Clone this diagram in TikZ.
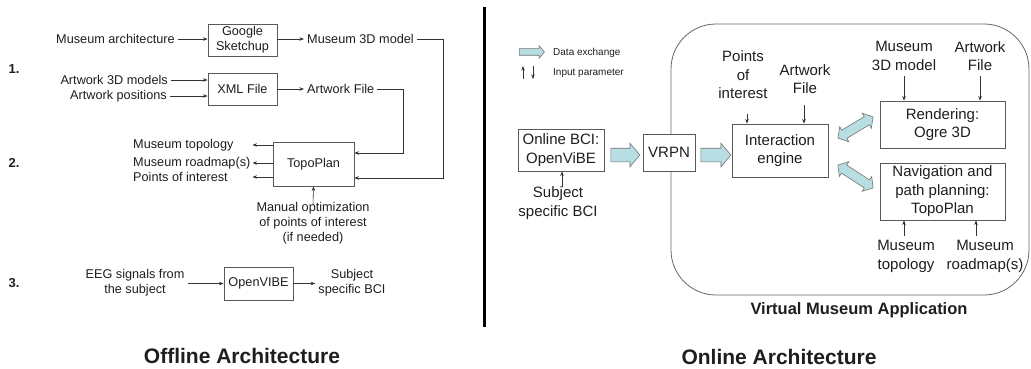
\documentclass[tikz,border=0pt]{standalone}
\usepackage{fontspec}
\setmainfont{Liberation Sans}
\usetikzlibrary{arrows.meta,shapes.arrows,calc}
\newcommand\fL{\fontsize{12.7}{15}\selectfont}
\newcommand\fR{\fontsize{15}{18.5}\selectfont}
\newcommand\fS{\fontsize{10}{12}\selectfont}
\definecolor{blu}{RGB}{183,222,226}
\definecolor{txt}{RGB}{30,30,30}
\begin{document}
\begin{tikzpicture}[x=1pt,y=-1pt,
  box/.style={draw=black!65, line width=0.9pt, fill=white, align=center, inner sep=1pt, text=txt},
  lbl/.style={align=center, inner sep=3pt, text=txt},
  arr/.style={-{Stealth[length=4.5pt,width=3.5pt]}, line width=0.6pt, draw=black!80},
  ln/.style={line width=0.6pt, draw=black!80},
  barrow/.style={single arrow, draw=black!55, fill=blu, line width=0.6pt, inner xsep=0pt, inner ysep=6.5pt, single arrow head extend=5pt, single arrow tip angle=100},
  dbarrow/.style={double arrow, draw=black!55, fill=blu, line width=0.6pt, inner xsep=0pt, inner ysep=4.5pt, double arrow head extend=4pt, double arrow tip angle=100},
  num/.style={font=\bfseries\fontsize{13}{15}\selectfont, text=txt, inner sep=0pt}
]
\useasboundingbox (0,0) rectangle (1031,369);

% ---------------- Offline ----------------
\node[num] (n1) at (14,69) {1.};
\node[num] (n2) at (14,163) {2.};
\node[num] (n3) at (14,283) {3.};

\node[box, font=\fL, minimum width=69, minimum height=32] (gs) at (242.5,40) {Google\\Sketchup};
\node[lbl, font=\fL, anchor=east] (ma) at (178,39) {Museum architecture};
\node[lbl, font=\fL, anchor=west] (m3d) at (304,39) {Museum 3D model};
\draw[arr] (ma.east) -- (gs.west |- ma.east);
\draw[arr] (gs.east |- m3d.west) -- (m3d.west);

\node[box, font=\fL, minimum width=69, minimum height=32] (xml) at (242.5,89) {XML File};
\node[lbl, font=\fL, anchor=east] (a3d) at (171,80) {Artwork 3D models};
\node[lbl, font=\fL, anchor=east] (apos) at (170,96) {Artwork positions};
\node[lbl, font=\fL, anchor=west] (af) at (304,89) {Artwork File};
\draw[arr] (a3d.east) -- (xml.west |- a3d.east);
\draw[arr] (apos.east) -- (xml.west |- apos.east);
\draw[arr] (xml.east |- af.west) -- (af.west);

\node[box, font=\fL, minimum width=81, minimum height=44] (tp) at (313.5,164) {TopoPlan};
\node[lbl, font=\fL, anchor=west, inner sep=0pt] (mt) at (133,145) {Museum topology};
\node[lbl, font=\fL, anchor=west, inner sep=0pt] (mr) at (133,163) {Museum roadmap(s)};
\node[lbl, font=\fL, anchor=west, inner sep=0pt] (poi) at (133,177) {Points of interest};
\draw[arr] (tp.west |- mt.west) -- ++(-20,0);
\draw[arr] (tp.west |- mr.west) -- ++(-20,0);
\draw[arr] (tp.west |- poi.west) -- ++(-20,0);
\coordinate (k1) at (443,178);
\coordinate (k2) at (403,153);
\draw[arr] (m3d.east) -| (k1) -- (tp.east |- k1);
\draw[arr] (af.east) -| (k2) -- (tp.east |- k2);
\node[lbl, font=\fL, anchor=north, inner sep=0pt] (man) at (313,202) {Manual optimization\\of points of interest\\(if needed)};
\draw[arr] ([yshift=-3pt]man.north) -- (tp.south);

\node[box, font=\fL, minimum width=69, minimum height=33] (ov) at (258.5,283.5) {OpenVIBE};
\node[lbl, font=\fL] (eeg) at (135,283) {EEG signals from\\the subject};
\node[lbl, font=\fL] (sbci) at (352,283) {Subject\\specific BCI};
\draw[arr] (eeg.east |- ov.west) -- (ov.west);
\draw[arr] (ov.east) -- (sbci.west |- ov.east);

\node[font=\bfseries\fontsize{21}{24}\selectfont, text=txt] (off) at (242,356) {Offline Architecture};

% divider
\draw[line width=3pt] (484,7) -- (484,327);

% ---------------- Online ----------------
\draw[draw=black!60, line width=0.8pt, rounded corners=45pt] (671,24) rectangle (1029,295);

\node[barrow, minimum height=25, inner ysep=3pt, single arrow head extend=3pt] (lgarr) at (530.5,52) {};
\node[lbl, font=\fS, anchor=west, inner sep=0pt] (lgd) at (553,53) {Data exchange};
\coordinate (u1) at (523,79);
\coordinate (u2) at (533,66);
\draw[arr] (u1) -- ++(0,-13);
\draw[arr] (u2) -- ++(0,13);
\node[lbl, font=\fS, anchor=west, inner sep=0pt] (lgi) at (553,73) {Input parameter};

\node[box, font=\fR, minimum width=86, minimum height=42] (bci) at (561,150) {Online BCI:\\OpenViBE};
\node[box, font=\fR, minimum width=52, minimum height=37] (vrpn) at (669,152.5) {VRPN};
\node[box, font=\fR, minimum width=96, minimum height=53] (ie) at (780,150.5) {Interaction\\engine};
\node[barrow, minimum height=29] (b1) at (622.5,155) {};
\node[barrow, minimum height=30] (b2) at (713,155) {};

\node[lbl, font=\fR, inner sep=0pt] (subj) at (558,203) {Subject\\specific BCI};
\draw[arr] ([xshift=4pt]subj.north) -- ([xshift=1pt]bci.south);

\node[lbl, font=\fR, inner sep=0pt] (poi2) at (743,75) {Points\\of\\interest};
\node[lbl, font=\fR, inner sep=0pt] (af2) at (805,79) {Artwork\\File};
\coordinate (pa) at (747,114);
\draw[arr] (pa) -- (pa |- ie.north);
\coordinate (pb) at (804,105);
\draw[arr] (pb) -- (pb |- ie.north);

\node[box, font=\fR, minimum width=125, minimum height=47] (ren) at (942.5,124.5) {Rendering:\\Ogre 3D};
\node[lbl, font=\fR, inner sep=0pt] (m3d2) at (904,56) {Museum\\3D model};
\node[lbl, font=\fR, inner sep=0pt] (af3) at (980,56) {Artwork\\File};
\draw[arr] ([yshift=-5pt]m3d2.south) -- (m3d2.south |- ren.north);
\draw[arr] ([yshift=-5pt]af3.south) -- (af3.south |- ren.north);

\node[box, font=\fR, minimum width=125, minimum height=57] (nav) at (942.5,191.5) {Navigation and\\path planning:\\TopoPlan};
\node[lbl, font=\fR, inner sep=0pt] (mtop) at (906,256.5) {Museum\\topology};
\node[lbl, font=\fR, inner sep=0pt] (mroad) at (985,256.5) {Museum\\roadmap(s)};
\coordinate (pc) at (904,236);
\coordinate (pd) at (976,236);
\draw[arr] (pc) -- (pc |- nav.south);
\draw[arr] (pd) -- (pd |- nav.south);

\node[dbarrow, minimum height=41, rotate=31] (d1) at (855.5,127.5) {};
\node[dbarrow, minimum height=42, rotate=-33] (d2) at (855.5,176.5) {};

\node[font=\bfseries\fontsize{16.5}{19}\selectfont, text=txt] (vma) at (859,310) {Virtual Museum Application};
\node[font=\bfseries\fontsize{21}{24}\selectfont, text=txt] (onl) at (779,357) {Online Architecture};
\end{tikzpicture}
\end{document}
